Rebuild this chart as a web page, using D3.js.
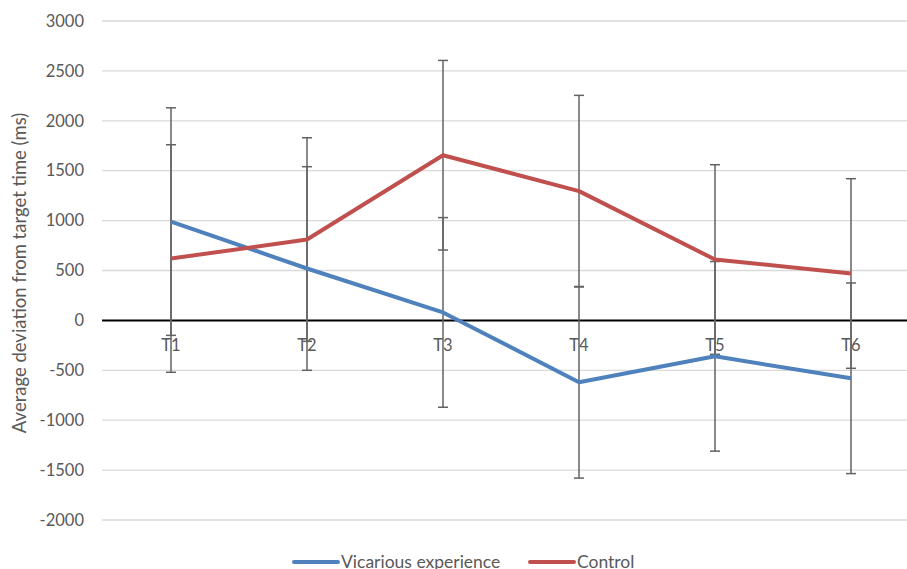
<!DOCTYPE html>
<html>
<head>
<meta charset="utf-8">
<script src="https://cdn.jsdelivr.net/npm/d3@7"></script>
<style>
  body { margin: 0; background: #fff; }
  svg text { font-family: Lato, "Open Sans", sans-serif; fill: #595959; }
</style>
</head>
<body>
<svg id="chart" width="907" height="569"></svg>
<script>
const categories = ['T1', 'T2', 'T3', 'T4', 'T5', 'T6'];
const vicarious = [990, 520, 80, -620, -360, -580];
const vicariousErr = [1140, 1020, 950, 960, 950, 955];
const control = [620, 810, 1655, 1295, 610, 470];
const controlErr = [1140, 1020, 950, 960, 950, 950];
const yTicks = [3000, 2500, 2000, 1500, 1000, 500, 0, -500, -1000, -1500, -2000];

const svg = d3.select('#chart');
const width = 907, height = 569;

const x = d3.scaleBand(categories, [103, 919]);
const y = d3.scaleLinear([-2000, 3000], [520, 21]);
const cx = d => x(d) + x.bandwidth() / 2;

// gridlines
svg.append('g').selectAll('line')
  .data(yTicks.filter(d => d !== 0))
  .join('line')
    .attr('x1', 102).attr('x2', width)
    .attr('y1', d => y(d)).attr('y2', d => y(d))
    .style('stroke', '#d9d9d9').style('stroke-width', 1.3);

// y labels
svg.append('g').selectAll('text')
  .data(yTicks)
  .join('text')
    .attr('x', 84)
    .attr('y', d => y(d))
    .attr('dy', '0.35em')
    .attr('text-anchor', 'end')
    .style('font-size', '16.5px')
    .text(d => d);

svg.append('text')
  .attr('transform', `translate(26,273) rotate(-90)`)
  .attr('text-anchor', 'middle')
  .style('font-size', '18.5px')
  .text('Average deviation from target time (ms)');

// zero axis
svg.append('line')
  .attr('x1', 102).attr('x2', width)
  .attr('y1', y(0)).attr('y2', y(0))
  .style('stroke', '#000').style('stroke-width', 2);

// category labels
svg.append('g').selectAll('text')
  .data(categories)
  .join('text')
    .attr('x', d => cx(d))
    .attr('y', y(0) + 25)
    .attr('dy', '0.35em')
    .attr('text-anchor', 'middle')
    .style('font-size', '16.5px')
    .text(d => d);

// error bars
const errs = [
  ...categories.map((c, i) => ({ c, v: vicarious[i], e: vicariousErr[i] })),
  ...categories.map((c, i) => ({ c, v: control[i], e: controlErr[i] }))
];
const eb = svg.append('g').style('stroke', '#636363').style('stroke-width', 1.5);
eb.selectAll('line.bar')
  .data(errs)
  .join('line')
    .attr('class', 'bar')
    .attr('x1', d => cx(d.c)).attr('x2', d => cx(d.c))
    .attr('y1', d => y(d.v + d.e)).attr('y2', d => y(d.v - d.e));
eb.selectAll('line.cap')
  .data(errs.flatMap(d => [d.v + d.e, d.v - d.e].map(v => ({ c: d.c, v }))))
  .join('line')
    .attr('class', 'cap')
    .attr('x1', d => cx(d.c) - 5).attr('x2', d => cx(d.c) + 5)
    .attr('y1', d => y(d.v)).attr('y2', d => y(d.v));

// series lines
const line = d3.line()
  .x((d, i) => cx(categories[i]))
  .y(d => y(d));

const series = [
  { name: 'Vicarious experience', values: vicarious, color: '#4f81bd' },
  { name: 'Control', values: control, color: '#c0504d' }
];

svg.append('g').selectAll('path')
  .data(series)
  .join('path')
    .attr('d', d => line(d.values))
    .style('fill', 'none')
    .style('stroke', d => d.color)
    .style('stroke-width', 4)
    .style('stroke-linejoin', 'round');

// legend
const legendX = [294, 530];
const lg = svg.append('g').selectAll('g')
  .data(series)
  .join('g')
    .attr('transform', (d, i) => `translate(${legendX[i]},562)`);
lg.append('line')
  .attr('x1', 0).attr('x2', 44)
  .style('stroke', d => d.color)
  .style('stroke-width', 4)
  .style('stroke-linecap', 'round');
lg.append('text')
  .attr('x', 47)
  .attr('dy', '0.35em')
  .style('font-size', '17.5px')
  .text(d => d.name);
</script>
</body>
</html>
